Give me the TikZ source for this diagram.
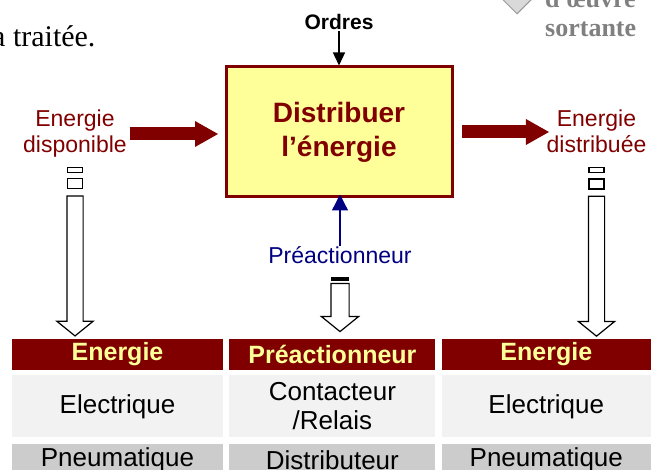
\documentclass[tikz,border=0pt]{standalone}
\usepackage{fontspec}
\setmainfont{Liberation Sans}
\newfontfamily\timesfont{Liberation Serif}
\usetikzlibrary{arrows.meta,positioning,shapes.arrows,shapes.geometric}
\definecolor{bordeaux}{HTML}{800000}
\definecolor{paleyellow}{HTML}{FFFF99}
\definecolor{marine}{HTML}{000080}
\definecolor{rowlight}{HTML}{F2F2F2}
\definecolor{rowdark}{HTML}{CCCCCC}

\begin{document}
\begin{tikzpicture}[x=1pt,y=-1pt,
  function/.style={draw=bordeaux, line width=3pt, fill=paleyellow, text=bordeaux,
    font=\fontsize{28}{34}\selectfont\bfseries, align=center,
    minimum width=226pt, minimum height=130pt},
  flowlabel/.style={text=bordeaux, font=\fontsize{23}{26}\selectfont, align=center, inner sep=0pt},
  flow/.style={bordeaux, line width=13pt, -{Triangle[length=23pt,width=26pt,line width=0pt]}},
  order/.style={line width=1.3pt, -{Triangle[length=13pt,width=12pt]}},
  stub/.style={draw, line width=1.2pt, fill=white, minimum width=15pt, inner sep=0pt},
  hollow/.style={single arrow, draw, line width=1.2pt, fill=white, rotate=-90,
    inner sep=7.5pt, minimum height=140pt, minimum width=35pt,
    single arrow head extend=10pt, single arrow tip angle=102, single arrow head indent=0pt},
  cellhead/.style={fill=bordeaux, text=paleyellow, font=\fontsize{25}{28}\selectfont\bfseries,
    minimum height=31pt, inner sep=0pt},
  cell/.style={fill=rowlight, font=\fontsize{26}{29}\selectfont, align=center,
    minimum height=62pt, inner sep=0pt},
  celldark/.style={fill=rowdark, font=\fontsize{26}{29}\selectfont,
    minimum height=32pt, inner sep=0pt}
]
  \useasboundingbox (0,0) rectangle (659,470);

  % bits of the page around the figure
  \node (texte) [anchor=base west, inner sep=0pt, font=\timesfont\fontsize{30}{34}\selectfont] at (-8,47) {a traitée.};
  \node (losange) [diamond, draw=gray!80, fill=gray!30, line width=1pt, minimum width=30pt, minimum height=30pt, inner sep=0pt] at (517,-1) {};
  \node (sortie) [anchor=base west, inner sep=0pt, align=left, text=gray, font=\timesfont\fontsize{26}{29}\selectfont\bfseries] at (545,37) {d'œuvre\\sortante};

  % the function
  \node (box) [function] at (339,132) {Distribuer\\l’énergie};
  \node (ordres) [font=\fontsize{21}{24}\selectfont\bfseries, inner sep=0pt] at (339,21.5) {Ordres};
  \node (disp) [flowlabel] at (75,134) {Energie\\disponible};
  \node (dist) [flowlabel] at (596.5,131.5) {Energie\\distribuée};
  \node (pre) [text=marine, font=\fontsize{23}{26}\selectfont, inner sep=0pt] at (340,255) {Préactionneur};

  \draw [order, shorten <=2pt] (ordres) -- (ordres |- box.north);
  \draw [order, marine, -{Triangle[length=16pt,width=16pt]}, shorten >=-4pt] (pre) -- (pre |- box.south);
  \draw [flow, shorten <=3pt, shorten >=6.5pt] (disp.east) -- (disp.east -| box.west);
  \draw [flow, shorten <=8.5pt, shorten >=-2.5pt] (box.east) -- (box.east -| dist.west);

  % hollow arrows down to the table
  \node (lstub1) [stub, minimum height=5pt, below=9pt of disp] {};
  \node (lstub2) [stub, minimum height=10pt, below=5pt of lstub1] {};
  \node (larrow) [hollow, below=6pt of lstub2, anchor=west] {};

  \node (rstub1) [stub, minimum height=5pt, below=14pt of dist] {};
  \node (rstub2) [stub, minimum height=10pt, below=5pt of rstub1] {};
  \node (rarrow) [hollow, below=6pt of rstub2, anchor=west] {};

  \node (mstub) [stub, fill=black, minimum width=17pt, minimum height=3pt, below=13pt of pre] {};
  \node (marrow) [hollow, minimum height=48pt, inner sep=8.5pt, minimum width=36pt, single arrow head extend=9.5pt, below=2pt of mstub, anchor=west] {};

  % table
  \node (h1) [cellhead, minimum width=211pt] at (117.5,354.5) {Energie};
  \node (h2) [cellhead, minimum width=206pt, right=6pt of h1] {Préactionneur};
  \node (h3) [cellhead, minimum width=209pt, right=6pt of h2] {Energie};

  \node (e1) [cell, minimum width=211pt, below=5pt of h1] {Electrique};
  \node (e2) [cell, minimum width=206pt, below=5pt of h2] {Contacteur\\/Relais};
  \node (e3) [cell, minimum width=209pt, below=5pt of h3] {Electrique};

  \node (p1) [celldark, minimum width=211pt, below=6pt of e1] {Pneumatique};
  \node (p2) [celldark, minimum width=206pt, below=6pt of e2] {Distributeur};
  \node (p3) [celldark, minimum width=209pt, below=6pt of e3] {Pneumatique};
\end{tikzpicture}
\end{document}
